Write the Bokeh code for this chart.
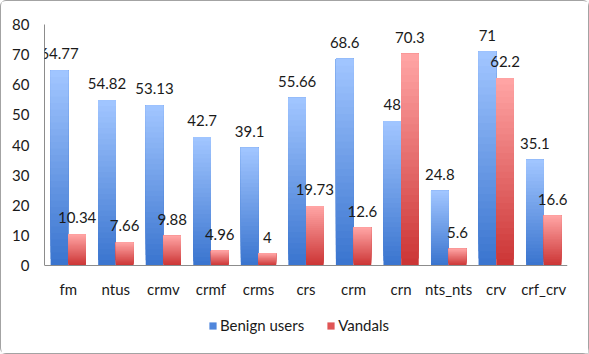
from bokeh.plotting import figure
from bokeh.models import ColumnDataSource, FactorRange, LabelSet, Legend, LegendItem, FixedTicker, Range1d
from bokeh.core.properties import value
from bokeh.transform import dodge
from bokeh.embed import file_html
from bokeh.resources import INLINE

categories = ["fm", "ntus", "crmv", "crmf", "crms", "crs", "crm", "crn", "nts_nts", "crv", "crf_crv"]
benign = [64.77, 54.82, 53.13, 42.7, 39.1, 55.66, 68.6, 48, 24.8, 71, 35.1]
vandals = [10.34, 7.66, 9.88, 4.96, 4, 19.73, 12.6, 70.3, 5.6, 62.2, 16.6]
benign_labels = ["64.77", "54.82", "53.13", "42.7", "39.1", "55.66", "68.6", "48", "24.8", "71", "35.1"]
vandal_labels = ["10.34", "7.66", "9.88", "4.96", "4", "19.73", "12.6", "70.3", "5.6", "62.2", "16.6"]
y_ticks = [0, 10, 20, 30, 40, 50, 60, 70, 80]
series_names = ["Benign users", "Vandals"]

FONT = "Lato"
N = 30  # gradient layers per bar


def lerp(c1, c2, t):
    a = [int(c1[i:i + 2], 16) for i in (1, 3, 5)]
    b = [int(c2[i:i + 2], 16) for i in (1, 3, 5)]
    return "#%02x%02x%02x" % tuple(round(a[j] + (b[j] - a[j]) * t) for j in range(3))


def gradient_source(values, bottom_color, top_color):
    # overlapping layers: each layer spans from its start up to the bar top
    xs, bots, tops, cols = [], [], [], []
    for k in range(N):
        for cat, v in zip(categories, values):
            xs.append(cat)
            bots.append(v * k / N)
            tops.append(v)
            cols.append(lerp(bottom_color, top_color, k / (N - 1)))
    return ColumnDataSource(dict(x=xs, bottom=bots, top=tops, color=cols))


# frame extends below the x axis so that the legend can sit inside it
p = figure(
    x_range=FactorRange(*categories),
    y_range=Range1d(-26.2, 80),
    frame_width=523, frame_height=320,
    output_backend="svg", toolbar_location=None,
    min_border_left=43, min_border_right=21, min_border_top=23, min_border_bottom=9,
)

off = 0.186
w = 0.37
src_b = gradient_source(benign, "#3b75cf", "#a0c5ff")
src_v = gradient_source(vandals, "#cc3636", "#ffa4a4")
p.vbar(x=dodge("x", -off, range=p.x_range), bottom="bottom", top="top", width=w,
       fill_color="color", line_color=None, source=src_b)
p.vbar(x=dodge("x", off, range=p.x_range), bottom="bottom", top="top", width=w,
       fill_color="color", line_color=None, source=src_v)

lab_b = ColumnDataSource(dict(x=categories, y=benign, t=benign_labels))
lab_v = ColumnDataSource(dict(x=categories, y=vandals, t=vandal_labels))
for src, o in ((lab_b, -off), (lab_v, off)):
    p.add_layout(LabelSet(x=dodge("x", o, range=p.x_range), y="y", text="t", source=src,
                          y_offset=11, text_align="center", text_baseline="alphabetic",
                          text_font=value(FONT), text_font_size=value("15px"),
                          text_color=value("#1a1a1a")))

# legend proxies (hidden bars, legend draws a filled square)
r1 = p.vbar(x=[categories[0]], top=[0], width=0.1, fill_color="#4f86dc", line_color=None, visible=False)
r2 = p.vbar(x=[categories[0]], top=[0], width=0.1, fill_color="#e05555", line_color=None, visible=False)
legend = Legend(items=[LegendItem(label=series_names[0], renderers=[r1]),
                       LegendItem(label=series_names[1], renderers=[r2])],
                orientation="horizontal", location=(164, 10),
                label_text_font=FONT, label_text_font_size="15px", label_text_color="#1a1a1a",
                glyph_width=9, glyph_height=9, label_standoff=3, spacing=22,
                border_line_color=None, background_fill_alpha=0, margin=0, padding=0)
p.add_layout(legend, "center")

p.xgrid.grid_line_color = None
p.ygrid.grid_line_color = None
p.outline_line_color = None

p.yaxis.ticker = FixedTicker(ticks=y_ticks)
p.yaxis.bounds = (y_ticks[0], y_ticks[-1])
p.xaxis.fixed_location = 0
for ax in (p.xaxis[0], p.yaxis[0]):
    ax.major_tick_in = 0
    ax.major_tick_out = 0
    ax.minor_tick_in = 0
    ax.minor_tick_out = 0
    ax.axis_line_color = "#8c8c8c"
    ax.major_label_text_font = FONT
    ax.major_label_text_font_size = "15px"
    ax.major_label_text_color = "#1a1a1a"
p.yaxis.major_label_standoff = 15
p.xaxis.major_label_standoff = 14

p.styles = {"border": "1px solid #a3a3a3", "border-radius": "6px",
            "box-shadow": "2px 2px 3px #c8c8c8"}

open("out.html", "w").write(file_html(p, INLINE))
